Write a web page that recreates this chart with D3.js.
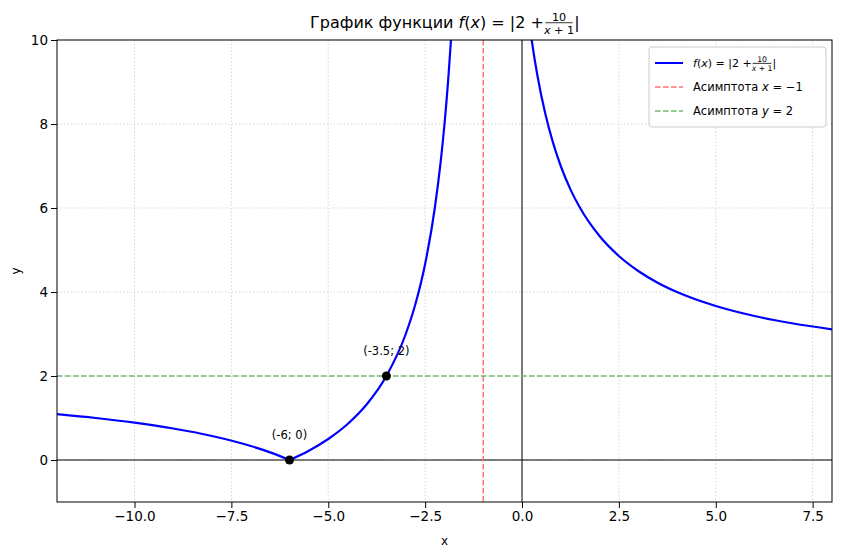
<!DOCTYPE html>
<html><head><meta charset="utf-8">
<script src="https://cdn.jsdelivr.net/npm/d3@7"></script>
<style>body{margin:0;background:#fff}text{font-family:"DejaVu Sans",sans-serif}</style>
</head><body><div id="chart"></div>
<script>
// values: left branch (x < -1) and right branch (x > -1)
const leftX = [-12, -11, -10, -9, -8, -7, -6.5, -6, -5.5, -5, -4.5, -4, -3.5, -3, -2.75, -2.5, -2.25, -2.1, -2.05, -2, -1.95, -1.9, -1.833, -1.8];
const leftY = [1.091, 1.0, 0.889, 0.75, 0.571, 0.333, 0.182, 0, 0.222, 0.5, 0.857, 1.333, 2, 3, 3.714, 4.667, 6, 7.091, 7.524, 8, 8.526, 9.111, 10, 10.5];
const rightX = [0.2, 0.25, 0.4, 0.6, 0.8, 1, 1.25, 1.5, 2, 2.5, 3, 3.5, 4, 5, 6, 7, 8];
const rightY = [10.333, 10, 9.143, 8.25, 7.556, 7, 6.444, 6, 5.333, 4.857, 4.5, 4.222, 4, 3.667, 3.429, 3.25, 3.111];
const marked = [[-6, 0, "(-6; 0)"], [-3.5, 2, "(-3.5; 2)"]];
const xTicks = [-10, -7.5, -5, -2.5, 0, 2.5, 5, 7.5];
const yTicks = [0, 2, 4, 6, 8, 10];

const width = 841, height = 557;
const margin = {top: 40, right: 9, bottom: 55, left: 57};

const svg = d3.select("#chart").append("svg").attr("width", width).attr("height", height);
const x = d3.scaleLinear([-12, 8], [margin.left, width - margin.right]);
const y = d3.scaleLinear([-1, 10], [height - margin.bottom, margin.top]);

svg.append("clipPath").attr("id", "clip").append("rect")
	.attr("x", margin.left).attr("y", margin.top)
	.attr("width", x.range()[1] - margin.left).attr("height", y.range()[0] - margin.top);

// grid
const grid = svg.append("g").attr("stroke", "#ccc").attr("stroke-width", 0.8).attr("stroke-dasharray", "1.5,2");
grid.selectAll(".gx").data(xTicks).join("line")
	.attr("x1", d => x(d)).attr("x2", d => x(d)).attr("y1", y(10)).attr("y2", y(-1));
grid.selectAll(".gy").data(yTicks).join("line")
	.attr("x1", x(-12)).attr("x2", x(8)).attr("y1", d => y(d)).attr("y2", d => y(d));

// zero lines
svg.append("line").attr("x1", x(-12)).attr("x2", x(8)).attr("y1", y(0)).attr("y2", y(0)).attr("stroke", "#000");
svg.append("line").attr("x1", x(0)).attr("x2", x(0)).attr("y1", y(10)).attr("y2", y(-1)).attr("stroke", "#000");

// asymptotes
svg.append("line").attr("x1", x(-1)).attr("x2", x(-1)).attr("y1", y(10)).attr("y2", y(-1))
	.attr("stroke", "#ff7070").attr("stroke-width", 1.5).attr("stroke-dasharray", "5.5,2.5");
svg.append("line").attr("x1", x(-12)).attr("x2", x(8)).attr("y1", y(2)).attr("y2", y(2))
	.attr("stroke", "#70bb70").attr("stroke-width", 1.5).attr("stroke-dasharray", "5.5,2.5");

// curve (left branch split at its cusp x = -6)
const line = d3.line().x(d => x(d[0])).y(d => y(d[1])).curve(d3.curveMonotoneX);
const plot = svg.append("g").attr("clip-path", "url(#clip)");
const left = d3.zip(leftX, leftY), cusp = leftX.indexOf(-6);
[left.slice(0, cusp + 1), left.slice(cusp), d3.zip(rightX, rightY)].forEach(pts =>
	plot.append("path").attr("d", line(pts)).attr("fill", "none").attr("stroke", "#0000ff")
		.attr("stroke-width", 2.2).attr("stroke-linejoin", "round"));

// marked points
svg.selectAll("circle.pt").data(marked).join("circle")
	.attr("cx", d => x(d[0])).attr("cy", d => y(d[1])).attr("r", 4.5).attr("fill", "#000");
svg.selectAll("text.pt").data(marked).join("text")
	.attr("x", d => x(d[0])).attr("y", d => y(d[1]) - 21).attr("text-anchor", "middle")
	.attr("font-size", 11.5).text(d => d[2]);

// axes
const ax = svg.append("g").attr("transform", `translate(0,${y(-1)})`)
	.call(d3.axisBottom(x).tickValues(xTicks).tickFormat(d => d3.format(".1f")(d).replace("-", "−")).tickSizeOuter(0));
const ay = svg.append("g").attr("transform", `translate(${margin.left},0)`)
	.call(d3.axisLeft(y).tickValues(yTicks).tickSizeOuter(0));
[ax, ay].forEach(a => { a.selectAll("text").attr("font-size", 13.5).attr("fill", "#000"); a.select(".domain").remove(); });
svg.append("rect").attr("x", margin.left).attr("y", margin.top)
	.attr("width", x.range()[1] - margin.left).attr("height", y.range()[0] - margin.top)
	.attr("fill", "none").attr("stroke", "#000");

svg.append("text").attr("x", x(-2)).attr("y", 545).attr("text-anchor", "middle").attr("font-size", 12).text("x");
svg.append("text").attr("transform", `translate(20,${y(4.5)}) rotate(-90)`).attr("text-anchor", "middle").attr("font-size", 12).text("y");

// title with formula
function formula(g, xs, yb, fs, prefix) {
	const t = g.append("text").attr("x", xs).attr("y", yb).attr("font-size", fs);
	t.append("tspan").text(prefix);
	t.append("tspan").attr("font-style", "italic").text("f");
	t.append("tspan").text("(");
	t.append("tspan").attr("font-style", "italic").text("x");
	t.append("tspan").text(") = |2 + ");
	const w = t.node().getComputedTextLength();
	const fx = xs + w + fs * 0.1, fw = fs * 1.7;
	g.append("text").attr("x", fx + fw / 2).attr("y", yb - fs * 0.45).attr("text-anchor", "middle").attr("font-size", fs * 0.7).text("10");
	const dn = g.append("text").attr("x", fx + fw / 2).attr("y", yb + fs * 0.35).attr("text-anchor", "middle").attr("font-size", fs * 0.7);
	dn.append("tspan").attr("font-style", "italic").text("x");
	dn.append("tspan").text(" + 1");
	g.append("line").attr("x1", fx).attr("x2", fx + fw).attr("y1", yb - fs * 0.33).attr("y2", yb - fs * 0.33).attr("stroke", "#000").attr("stroke-width", 0.8);
	g.append("text").attr("x", fx + fw + fs * 0.1).attr("y", yb).attr("font-size", fs).text("|");
	return w + fw + fs * 0.5;
}
const tg = svg.append("g");
const tw = formula(tg, 0, 28, 16, "График функции ");
tg.attr("transform", `translate(${(margin.left + x.range()[1]) / 2 - tw / 2},0)`);

// legend
const lg = svg.append("g").attr("transform", "translate(649,47)");
lg.append("rect").attr("width", 177).attr("height", 80).attr("rx", 3).attr("fill", "#fff").attr("fill-opacity", 0.85).attr("stroke", "#ccc");
const items = [["#0000ff", null, 2], ["#ff7070", "5.5,2.5", 1.5], ["#70bb70", "5.5,2.5", 1.5]];
items.forEach((d, i) => {
	const yy = 16 + i * 24;
	lg.append("line").attr("x1", 6).attr("x2", 34).attr("y1", yy).attr("y2", yy)
		.attr("stroke", d[0]).attr("stroke-width", d[2]).attr("stroke-dasharray", d[1]);
});
formula(lg, 44, 20, 11, "");
[["Асимптота ", "x", " = −1"], ["Асимптота ", "y", " = 2"]].forEach((d, i) => {
	const t = lg.append("text").attr("x", 44).attr("y", 44 + i * 24).attr("font-size", 11.5);
	t.append("tspan").text(d[0] + "");
	t.append("tspan").attr("font-style", "italic").text(d[1]);
	t.append("tspan").text(d[2]);
});
</script></body></html>
